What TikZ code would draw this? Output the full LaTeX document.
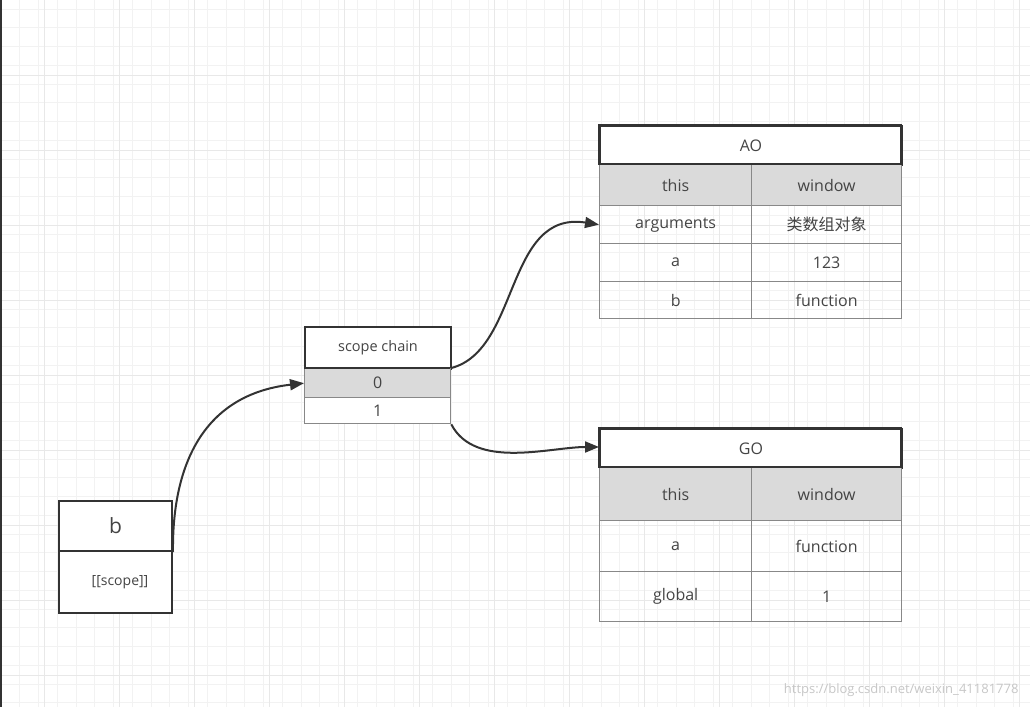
\documentclass[tikz,border=0pt]{standalone}
\usepackage{fontspec}
\setmainfont{Open Sans}
\newfontfamily\cjk{Noto Sans CJK SC}
\usetikzlibrary{arrows.meta}
\definecolor{txt}{HTML}{444444}
\definecolor{hdr}{HTML}{333333}
\definecolor{cellb}{HTML}{888888}
\definecolor{shade}{HTML}{DADADA}
\begin{document}
\begin{tikzpicture}[x=1pt,y=-1pt,
  cell/.style={draw=cellb,line width=1.3pt,minimum height=#1,inner sep=0pt,anchor=north west,text=txt,font=\fontsize{16}{18}\selectfont},
  head/.style={draw=hdr,line width=2pt,fill=white,inner sep=0pt,anchor=north west,text=txt,font=\fontsize{16}{18}\selectfont},
  arr/.style={draw=hdr,line width=2pt,-{Triangle[length=14pt,width=11pt]}}]
\useasboundingbox (0,0) rectangle (1030,707);
\fill[white] (0,0) rectangle (1030,707);
\foreach \i in {0,...,56} \draw[black!5,line width=0.6pt] ({\i*18.75+1},0) -- ({\i*18.75+1},707);
\foreach \i in {0,...,38} \draw[black!5,line width=0.6pt] (0,{\i*18.75+9}) -- (1030,{\i*18.75+9});
\foreach \i in {0,...,14} \draw[black!9,line width=0.7pt] ({\i*75+44},0) -- ({\i*75+44},707);
\foreach \i in {0,...,10} \draw[black!9,line width=0.7pt] (0,{\i*75+75}) -- (1030,{\i*75+75});
\draw[hdr,line width=1.5pt] (1,0) -- (1,707);
% b box
\node[head,minimum width=113pt,minimum height=50pt,font=\fontsize{21}{24}\selectfont] (bh) at (58,500) {b};
\node[head,minimum width=113pt,minimum height=62pt] (bs) at (58,550) {};
\node[text=txt,font=\fontsize{14}{16}\selectfont] (bst) at (120,582) {[[scope]]};
% scope chain
\node[head,minimum width=146pt,minimum height=42pt,font=\fontsize{14.5}{16}\selectfont] (sc) at (304,326) {scope chain};
\node[cell=29pt,fill=shade,minimum width=146pt] (s0) at (304,368) {0};
\node[cell=26pt,fill=white,minimum width=146pt] (s1) at (304,397) {1};
\draw[hdr,line width=2pt] (304,368) -- (450,368);
% AO
\node[head,minimum width=302pt,minimum height=39pt] (ao) at (599,125) {AO};
\node[cell=41pt,fill=shade,minimum width=152pt] (a1) at (599,164) {this};
\node[cell=41pt,fill=shade,minimum width=150pt] (a2) at (751,164) {window};
\node[cell=38pt,minimum width=152pt] (a3) at (599,205) {arguments};
\node[cell=38pt,minimum width=150pt,font=\cjk\fontsize{16}{18}\selectfont] (a4) at (751,205) {类数组对象};
\node[cell=38pt,minimum width=152pt] (a5) at (599,243) {a};
\node[cell=38pt,minimum width=150pt] (a6) at (751,243) {123};
\node[cell=37pt,minimum width=152pt] (a7) at (599,281) {b};
\node[cell=37pt,minimum width=150pt] (a8) at (751,281) {function};
\draw[hdr,line width=2pt] (599,125) rectangle (901,164);
% GO
\node[head,minimum width=302pt,minimum height=39pt] (go) at (599,428) {GO};
\node[cell=53pt,fill=shade,minimum width=152pt] (g1) at (599,467) {this};
\node[cell=53pt,fill=shade,minimum width=150pt] (g2) at (751,467) {window};
\node[cell=51pt,minimum width=152pt] (g3) at (599,520) {a};
\node[cell=51pt,minimum width=150pt] (g4) at (751,520) {function};
\node[cell=50pt,minimum width=152pt] (g5) at (599,571) {global};
\node[cell=50pt,minimum width=150pt] (g6) at (751,571) {1};
\draw[hdr,line width=2pt] (599,428) rectangle (901,467);
% arrows
\draw[arr] (bh.south east) .. controls (172,470) and (200,395) .. (s0.west);
\draw[arr] (s0.north east) .. controls (520,350) and (505,210) .. (a3.west);
\draw[arr] (s1.south east) .. controls (475,470) and (550,447) .. (go.south west |- 0,447);
\node[text=black!22,font=\fontsize{13}{15}\selectfont,anchor=east] (wm) at (1022,690) {https://blog.csdn.net/weixin\_41181778};
\end{tikzpicture}
\end{document}
